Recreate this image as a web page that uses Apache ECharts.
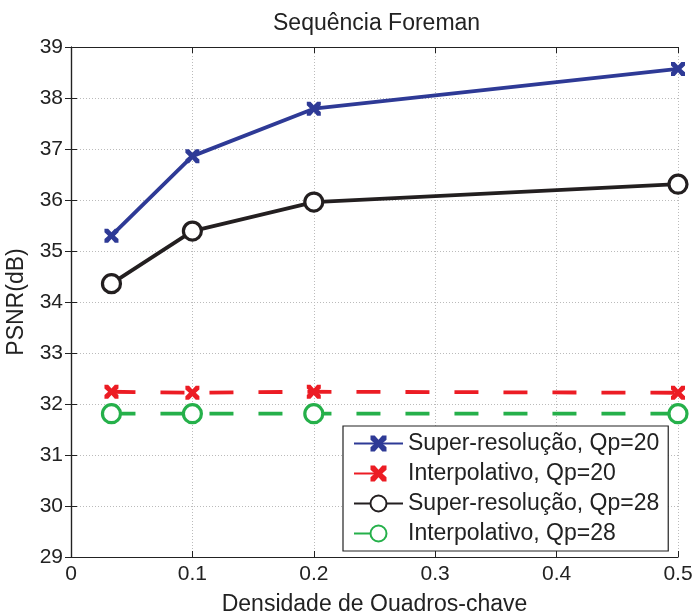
<!DOCTYPE html>
<html><head><meta charset="utf-8">
<script src="https://cdn.jsdelivr.net/npm/echarts@6/dist/echarts.min.js"></script>
<style>html,body{margin:0;padding:0;background:#fff}#c{width:693px;height:611px}</style>
</head><body><div id="c"></div>
<script>
var xValues = [1/30, 0.1, 0.2, 0.5];
var superQp20 = [35.30, 36.86, 37.79, 38.57];
var interpQp20 = [32.24, 32.22, 32.24, 32.22];
var superQp28 = [34.36, 35.39, 35.96, 36.31];
var interpQp28 = [31.81, 31.81, 31.81, 31.81];
var seriesNames = ['Super-resolução, Qp=20', 'Interpolativo, Qp=20', 'Super-resolução, Qp=28', 'Interpolativo, Qp=28'];

function zip(ys){ return xValues.map(function(x,i){ return [x, ys[i]]; }); }
var crossPath = 'path://M0,0 L2.6,0 L5,2.6 L7.4,0 L10,0 L10,2.6 L7.4,5 L10,7.4 L10,10 L7.4,10 L5,7.4 L2.6,10 L0,10 L0,7.4 L2.6,5 L0,2.6 Z';
var FONT = 'Liberation Sans, Arial, sans-serif';
var blue='#2e3a96', red='#ec1c24', black='#231f20', green='#25b04a';

var chart = echarts.init(document.getElementById('c'));
var axisLine = {show:true, lineStyle:{color:'#222', width:1.2}};
var tick = {show:true, inside:true, length:6, lineStyle:{color:'#222'}};
chart.setOption({
  animation:false,
  backgroundColor:'#fff',
  title:{text:'Sequência Foreman', left:268, top:7,
    textStyle:{fontFamily:FONT, fontSize:23, fontWeight:'normal', color:'#222'}},
  grid:{left:71, right:15, top:47, bottom:54, outerBoundsMode:'none', containLabel:false},
  legend:{
    orient:'vertical', left:343, top:426,
    backgroundColor:'#fff', borderColor:'#222', borderWidth:1.2,
    padding:[6,9,6,10], itemGap:7, itemWidth:49, itemHeight:20,
    textStyle:{fontFamily:FONT, fontSize:23, lineHeight:20, color:'#222'},
    data:seriesNames
  },
  xAxis:[{
    type:'value', min:0, max:0.5, interval:0.1,
    name:'Densidade de Quadros-chave', nameLocation:'middle', nameGap:36,
    nameTextStyle:{fontFamily:FONT, fontSize:23, color:'#222'},
    axisLine:axisLine, axisTick:tick,
    axisLabel:{fontFamily:FONT, fontSize:21, color:'#222', margin:7},
    splitLine:{show:true, lineStyle:{color:'#bbb', type:[1,2], width:1}}
  },{
    type:'value', min:0, max:0.5, interval:0.1, position:'top',
    axisLine:axisLine, axisTick:tick, axisLabel:{show:false}, splitLine:{show:false}
  }],
  yAxis:[{
    type:'value', min:29, max:39, interval:1,
    name:'PSNR(dB)', nameLocation:'middle', nameGap:43,
    nameTextStyle:{fontFamily:FONT, fontSize:23, color:'#222'},
    axisLine:axisLine, axisTick:tick,
    axisLabel:{fontFamily:FONT, fontSize:21, color:'#222', margin:8},
    splitLine:{show:true, lineStyle:{color:'#bbb', type:[1,2], width:1}}
  },{
    type:'value', min:29, max:39, interval:1, position:'right',
    axisLine:axisLine, axisTick:tick, axisLabel:{show:false}, splitLine:{show:false}
  }],
  series:[
    {name:seriesNames[0], type:'line', data:zip(superQp20), symbol:crossPath, symbolSize:14,
     lineStyle:{color:blue, width:3.8}, itemStyle:{color:blue}, z:5},
    {name:seriesNames[1], type:'line', data:zip(interpQp20), symbol:crossPath, symbolSize:14,
     lineStyle:{color:red, width:3.8, type:[24,25]}, itemStyle:{color:red}, z:4},
    {name:seriesNames[2], type:'line', data:zip(superQp28), symbol:'circle', symbolSize:18,
     lineStyle:{color:black, width:3.8}, itemStyle:{color:'#fff', borderColor:black, borderWidth:3.2}, z:5},
    {name:seriesNames[3], type:'line', data:zip(interpQp28), symbol:'circle', symbolSize:18,
     lineStyle:{color:green, width:3.8, type:[24,25]}, itemStyle:{color:'#fff', borderColor:green, borderWidth:3.2}, z:4}
  ]
});
</script></body></html>
